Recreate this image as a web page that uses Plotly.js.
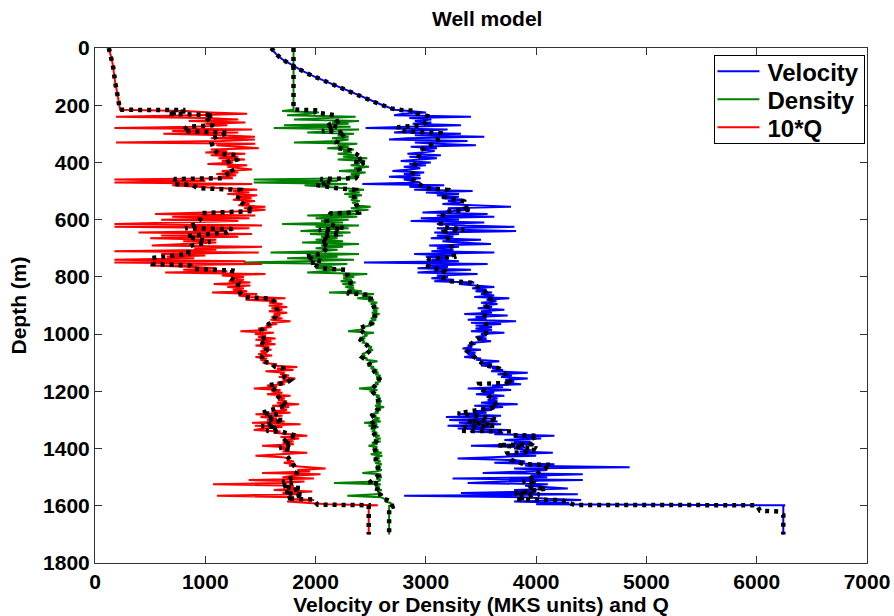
<!DOCTYPE html>
<html>
<head>
<meta charset="utf-8">
<script src="https://cdn.plot.ly/plotly-3.0.1.min.js"></script>
<style>html,body{margin:0;padding:0;background:#fff;}#chart{width:894px;height:616px;}</style>
</head>
<body>
<div id="chart"></div>
<script>
// ---- raw logs: shared depth samples (m) ----
const depthRaw = [0,20,40,60,80,100,120,140,160,180,200,216,
220,225,230,235,240,245,250,255,260,265,
270,275,280,285,290,295,300,305,310,315,
320,325,330,335,340,345,350,355,360,365,
370,375,380,385,390,395,400,405,410,415,
420,425,430,435,440,445,450,455,460,465,
470,475,480,485,490,495,500,505,510,515,
520,525,530,535,540,545,550,555,560,565,
570,575,580,585,590,595,600,605,610,615,
620,625,630,635,640,645,650,655,660,665,
670,675,680,685,690,695,700,705,710,715,
720,725,730,735,740,745,750,755,760,765,
770,775,780,785,790,795,800,805,810,815,
820,825,830,835,840,845,850,855,860,865,
870,875,880,885,890,895,900,905,910,915,
920,925,930,935,940,945,950,955,960,965,
970,975,980,985,990,995,1000,1005,1010,1015,
1020,1025,1030,1035,1040,1045,1050,1055,1060,1065,
1070,1075,1080,1085,1090,1095,1100,1105,1110,1115,
1120,1125,1130,1135,1140,1145,1150,1155,1160,1165,
1170,1175,1180,1185,1190,1195,1200,1205,1210,1215,
1220,1225,1230,1235,1240,1245,1250,1255,1260,1265,
1270,1275,1280,1285,1290,1295,1300,1305,1310,1315,
1320,1325,1330,1335,1340,1345,1350,1355,1360,1365,
1370,1375,1380,1385,1390,1395,1400,1405,1410,1415,
1420,1425,1430,1435,1440,1445,1450,1455,1460,1465,
1470,1475,1480,1485,1490,1495,1500,1505,1510,1515,
1520,1525,1530,1535,1540,1545,1550,1555,1560,1565,
1570,1575,1580,1585,1590,1595,
1598,1600,1700];

const velocityRaw = [1595,1640,1700,1790,1880,1990,2115,2230,2350,2475,2610,2720,
2850,3000,2800,2712,3409,2850,3050,2900,3050,2880,
3318,2833,2454,3197,2850,2712,3318,2900,3530,2833,
2666,3378,2900,3100,3454,2863,3100,2950,3080,2960,
2833,3136,2850,3100,2900,2772,3045,2850,3000,2800,
2950,2850,2697,2985,2800,2950,2666,2954,2800,2900,
2950,2424,3166,2850,3100,2894,3424,3000,3300,3100,
3300,3150,3350,3200,3320,3150,3400,3772,3200,3400,
3250,2969,3560,3100,3621,2954,3300,2863,3530,3100,
3350,3803,3100,3300,3818,3076,3300,3100,3250,3045,
3500,3150,3300,3590,3030,3300,3100,3250,3050,3621,
2894,3250,3000,3200,3050,3300,2439,3560,3000,3200,
2924,3409,3100,2924,3469,3100,3200,3050,3250,3076,
3439,3300,3450,3621,3420,3550,3450,3600,3500,3620,
3439,3757,3550,3640,3500,3650,3520,3600,3470,3712,
3500,3600,3348,3742,3450,3550,3379,3818,3409,3682,
3450,3600,3450,3600,3409,3712,3500,3550,3450,3550,
3470,3591,3420,3450,3380,3420,3333,3500,3350,3450,
3380,3450,3348,3500,3454,3666,3500,3600,3500,3650,
3600,3700,3591,3924,3650,3780,3682,3924,3720,3800,
3712,3863,3600,3700,3379,3773,3500,3620,3454,3712,
3550,3650,3560,3650,3500,3833,3439,3700,3500,3600,
3450,3550,3300,3682,3182,3600,3212,3651,3300,3682,
3197,3600,3288,3742,3400,3700,3621,4166,3800,4045,
3712,3950,3800,3985,3409,3900,3800,3950,3850,4151,
3742,4000,3600,3288,3803,3900,3621,4166,3900,4848,
3800,4100,3900,3515,4423,3950,4100,3242,4423,3700,
3379,4106,3900,4100,4287,3800,4000,3318,4378,2803,
3900,4100,4408,3800,4300,4000,
6257,6241,6241];

const densityRaw = [1800,1800,1800,1800,1800,1800,1800,1800,1800,1800,1800,1800,
1697,2030,1950,1742,2363,2100,1803,2394,2150,2300,
1712,2318,1621,2394,2150,1924,2348,2200,2300,2150,
2300,2200,1803,2378,2200,2300,2106,2348,2250,2330,
2200,2350,2250,2469,2200,2450,2350,2400,2318,2485,
2350,2420,2212,2454,2320,2400,2300,2380,1439,2200,
1439,2288,1900,2100,2227,2439,2300,2400,2260,2420,
2300,2380,2320,2400,2330,2390,2350,2500,2320,2480,
2350,2150,2400,1924,2378,2000,2300,2050,2250,1697,
2394,2000,2300,2100,1863,2318,1950,2250,2050,2200,
2000,2250,1878,2394,2050,2250,2000,2200,2050,1591,
2394,1950,2200,1742,2348,1900,1348,2288,2000,2150,
2000,2250,2100,1924,2469,2250,2350,2250,2330,2227,
2363,2243,2349,2270,2350,2300,2420,2121,2530,2420,
2500,2379,2530,2480,2560,2500,2550,2510,2570,2520,
2560,2510,2580,2520,2560,2500,2550,2490,2530,2480,
2500,2420,2440,2400,2294,2530,2440,2470,2420,2450,
2400,2440,2430,2480,2460,2510,2480,2520,2490,2460,
2420,2450,2410,2470,2455,2561,2480,2500,2470,2530,
2500,2560,2520,2570,2540,2590,2550,2600,2560,2590,
2540,2570,2520,2550,2394,2561,2490,2540,2520,2580,
2550,2590,2560,2600,2550,2590,2540,2621,2560,2590,
2540,2570,2500,2550,2530,2580,2520,2591,2440,2560,
2480,2570,2500,2540,2510,2560,2520,2580,2540,2590,
2530,2590,2510,2560,2480,2560,2520,2570,2530,2600,
2500,2606,2540,2580,2530,2590,2540,2600,2550,2590,
2560,2600,2550,2424,2591,2560,2600,2550,2590,2560,
2167,2591,2540,2580,2550,2600,2560,2590,2550,2288,
2591,2620,2650,2630,2680,2690,
2710,2667,2667];

const qRaw = [125,140,152,162,168,173,183,193,204,212,221,227,
820,1050,1380,900,190,1000,1300,850,1364,1000,
1200,900,176,1424,700,1300,620,1150,1450,1050,
1450,1150,190,1454,1100,1300,1485,1050,1200,1000,
1364,1050,1300,1120,1360,1150,1250,1020,1380,1200,
1300,1424,1150,1300,1100,1280,1150,1250,176,1000,
176,1424,700,900,1150,1470,1250,1400,1200,1470,
1300,1420,1250,1450,1330,1400,1300,1545,1350,1545,
1400,1000,545,1454,700,1400,600,1300,800,176,
1515,176,1400,900,1200,394,1424,600,1300,500,
1100,800,1100,850,515,1515,900,1100,176,1485,
600,1000,650,900,176,1364,176,1515,500,900,
1100,800,1200,636,1545,1150,1350,1250,1350,1212,
1409,1076,1409,1200,1350,1250,1380,1061,1470,1300,
1400,1727,1364,1650,1580,1700,1576,1743,1600,1700,
1576,1743,1620,1680,1600,1700,1591,1773,1600,1650,
1550,1600,1480,1560,1318,1621,1450,1550,1480,1637,
1455,1600,1500,1637,1455,1580,1520,1600,1500,1560,
1480,1606,1455,1560,1500,1560,1520,1650,1600,1834,
1650,1800,1546,1720,1680,1760,1667,1818,1700,1760,
1650,1720,1560,1650,1440,1682,1600,1700,1560,1773,
1640,1720,1660,1740,1650,1849,1606,1760,1680,1740,
1600,1773,1455,1700,1500,1650,1560,1720,1424,1864,
1450,1700,1520,1440,1682,1620,1760,1924,1682,1850,
1720,1800,1700,1803,1515,1740,1680,1760,1700,1924,
1682,1455,1700,1760,1740,1803,1712,1803,1760,1900,
2091,1834,1950,1515,2045,1800,1700,1985,1394,1900,
1700,1070,1803,1750,1850,1621,1970,1700,1850,1106,
1803,1750,1985,1742,1985,2106,
2564,2482,2482];

// ---- blocked (smoothed) logs, drawn black dotted ----
const velBlockDepth = [0,30,54,89,124,147,170,193,211,217,219,230,238,257,270,277,290,298,316,325,
339,356,374,397,415,438,455,479,490,496,520,537,555,565,572,601,624,635,642,665,
683,706,730,738,758,770,778,799,815,820,836,858,881,898,916,939,962,997,1015,1038,
1061,1079,1096,1108,1120,1137,1160,1170,1174,1190,1207,1230,1254,1260,1277,1290,1300,1305,1320,1325,
1338,1340,1353,1355,1370,1385,1388,1399,1410,1417,1440,1455,1457,1481,1498,1516,1520,1536,1540,1557,
1560,1578,1580,1597,1598,1617,1620,1632,1700];
const velBlock = [1597,1667,1757,1924,2136,2273,2409,2560,2682,2780,2894,2924,3015,3015,2954,2742,2803,3136,3136,3076,
3045,2954,2939,2909,2894,2879,2860,2954,3000,3197,3167,3348,3348,3409,3167,3136,3136,3348,3167,3200,
3227,3242,3257,3030,3000,3060,3167,3136,3227,3409,3480,3560,3591,3560,3545,3530,3545,3545,3485,3394,
3379,3439,3485,3530,3666,3712,3742,3788,3485,3500,3560,3606,3651,3560,3288,3545,3651,3379,3621,3348,
3318,3773,3788,4015,3939,3951,3651,3985,3969,3742,3772,3894,4136,4030,3985,3879,3969,3939,4091,3803,
4030,3818,4227,4348,6000,6030,6196,6241,6241];

const denBlockDepth = [0,214,216,218,225,234,257,270,275,290,296,316,333,350,357,380,385,397,400,415,
436,455,458,470,479,490,496,508,537,557,575,578,597,615,630,636,650,659,675,680,
694,720,729,745,752,770,776,793,817,840,858,863,881,904,933,962,975,980,997,1021,
1038,1056,1081,1096,1120,1137,1157,1178,1195,1213,1230,1260,1283,1300,1320,1324,1341,1364,1393,1417,
1440,1463,1492,1520,1522,1539,1557,1562,1574,1580,1586,1603,1606,1700];
const denBlock = [1800,1800,1848,2030,1985,2166,2197,2112,2197,2060,2272,2212,2190,2203,2318,2394,2424,2348,2439,2385,
2403,2363,2045,2136,2009,2197,2363,2348,2354,2385,2394,2136,2100,2106,2257,2030,2227,2060,2121,2045,
2121,2045,1909,2045,1954,2060,2288,2288,2318,2312,2303,2500,2500,2530,2537,2515,2440,2394,2440,2409,
2464,2500,2424,2476,2515,2546,2576,2546,2500,2546,2567,2567,2515,2546,2485,2530,2515,2561,2530,2546,
2546,2561,2576,2485,2576,2561,2546,2591,2606,2652,2682,2697,2667,2667];

const qBlockDepth = [0,60,120,180,216,217,222,230,234,240,270,275,290,296,305,315,330,357,370,374,
390,397,415,437,440,455,458,470,476,478,490,496,520,531,545,559,570,577,598,615,
630,633,645,657,665,677,690,698,720,734,745,755,760,772,778,804,821,839,857,870,
877,898,916,939,960,968,986,1014,1026,1038,1058,1079,1096,1100,1115,1120,1150,1160,1170,1178,
1198,1219,1236,1250,1254,1276,1280,1297,1300,1321,1325,1338,1342,1356,1360,1380,1384,1397,1400,1422,
1440,1457,1477,1498,1516,1520,1534,1538,1555,1560,1575,1578,1596,1598,1700];
const qBlock = [125,162,183,212,227,800,800,664,1073,1000,1073,836,800,1210,1150,1070,1055,1080,1120,1290,
1290,1210,1230,1255,1200,1150,730,720,710,880,930,1320,1300,1290,1345,1400,1440,970,955,910,
820,1245,1200,836,900,1045,880,845,845,518,530,527,864,890,1245,1230,1300,1290,1318,1364,
1610,1636,1654,1636,1600,1560,1510,1530,1490,1555,1555,1515,1515,1590,1636,1710,1718,1773,1736,1580,
1636,1664,1700,1745,1682,1510,1654,1555,1710,1510,1654,1555,1700,1836,1755,1700,1790,1673,1745,1736,
1764,1800,1836,1818,1700,1790,1700,1870,1718,1890,1736,1982,2018,2482,2482];

const seriesNames = ['Velocity','Density','10*Q'];
const xTicks = [0,1000,2000,3000,4000,5000,6000,7000];
const yTicks = [0,200,400,600,800,1000,1200,1400,1600,1800];

const FONT = 'Liberation Sans, Arial, sans-serif';
const rawW = 2;
const dotStyle = {color:'#000000', width:4.5, dash:'4px,5px'};

const traces = [
  {x: velocityRaw, y: depthRaw, name: seriesNames[0], mode:'lines', line:{color:'#0000ff', width:rawW}},
  {x: densityRaw, y: depthRaw, name: seriesNames[1], mode:'lines', line:{color:'#008000', width:rawW}},
  {x: qRaw, y: depthRaw, name: seriesNames[2], mode:'lines', line:{color:'#ff0000', width:rawW}},
  {x: velBlock, y: velBlockDepth, mode:'lines', line:dotStyle, showlegend:false, hoverinfo:'skip'},
  {x: denBlock, y: denBlockDepth, mode:'lines', line:dotStyle, showlegend:false, hoverinfo:'skip'},
  {x: qBlock, y: qBlockDepth, mode:'lines', line:dotStyle, showlegend:false, hoverinfo:'skip'}
];

const axisCommon = {
  showgrid:false, zeroline:false, showline:true, linecolor:'#333333', linewidth:1,
  mirror:'ticks', ticks:'inside', ticklen:7, tickcolor:'#333333',
  tickfont:{family:FONT, size:21, weight:'bold', color:'#000'}
};

const layout = {
  width:894, height:616,
  margin:{l:95, r:27, t:48, b:53},
  paper_bgcolor:'#ffffff', plot_bgcolor:'#ffffff',
  title:{text:'Well model', font:{family:FONT, size:21, weight:'bold', color:'#000'}, x:0.545, xanchor:'center', y:0.982, yanchor:'top'},
  xaxis: Object.assign({}, axisCommon, {range:[0,7000], tickvals:xTicks,
    title:{text:'Velocity or Density (MKS units) and Q', font:{family:FONT, size:21, weight:'bold', color:'#000'}, standoff:6}}),
  yaxis: Object.assign({}, axisCommon, {range:[1800,0], tickvals:yTicks,
    title:{text:'Depth (m)', font:{family:FONT, size:21, weight:'bold', color:'#000'}, standoff:10}}),
  legend:{x:0.998, xanchor:'right', y:0.986, yanchor:'top', bgcolor:'#ffffff', bordercolor:'#000000', borderwidth:1,
    font:{family:FONT, size:24, weight:'bold', color:'#000'}, tracegroupgap:0, itemwidth:42},
  showlegend:true
};

Plotly.newPlot('chart', traces, layout, {displayModeBar:false, staticPlot:true}).then(function(gd){
  // lengthen legend line samples to match the reference
  gd.querySelectorAll('.legend .legendlines path').forEach(function(p){ p.setAttribute('d','M2,0h42'); });
  // tighten legend row spacing to the reference's 28 px
  const items = gd.querySelectorAll('.legend .traces');
  if (items.length === 3) {
    const getY = function(el){ const m = /translate\(\s*([-\d.]+)[ ,]+([-\d.]+)/.exec(el.getAttribute('transform')||''); return m ? [parseFloat(m[1]), parseFloat(m[2])] : [0,0]; };
    const p0 = getY(items[0]), p2 = getY(items[2]);
    const shrink = (p2[1] - p0[1]) - 56;
    const y0 = p0[1] - 7;
    items.forEach(function(el, i){ const p = getY(el); el.setAttribute('transform','translate(' + p[0] + ',' + (y0 + i*28) + ')'); });
    const bg = gd.querySelector('.legend .bg');
    if (bg) { const h = parseFloat(bg.getAttribute('height')); bg.setAttribute('height', h - shrink - 14); }
  }
});
</script>
</body>
</html>
